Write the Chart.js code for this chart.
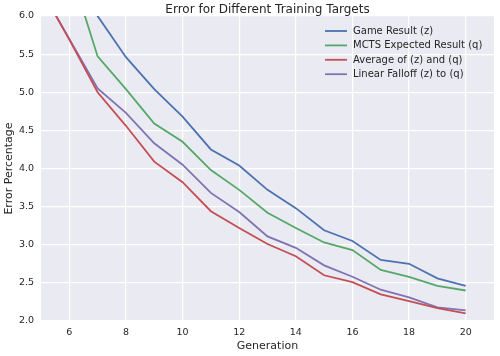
<!DOCTYPE html>
<html><head><meta charset="utf-8">
<script src="https://cdn.jsdelivr.net/npm/chart.js@4/dist/chart.umd.min.js"></script>
<style>html,body{margin:0;padding:0;background:#fff}#wrap{width:500px;height:356px}</style>
</head><body><div id="wrap"><canvas id="c" width="500" height="356"></canvas></div>
<script>
const chartTitle = 'Error for Different Training Targets';
const xTitle = 'Generation';
const yTitle = 'Error Percentage';
const generations = [5,6,7,8,9,10,11,12,13,14,15,16,17,18,19,20];
const seriesNames = ['Game Result (z)','MCTS Expected Result (q)','Average of (z) and (q)','Linear Falloff (z) to (q)'];
const gameResult    = [7.80,6.85,6.00,5.46,5.04,4.68,4.25,4.04,3.72,3.48,3.19,3.05,2.80,2.75,2.56,2.46];
const mctsExpected  = [7.70,6.65,5.47,5.04,4.59,4.35,3.98,3.72,3.42,3.22,3.03,2.93,2.67,2.58,2.46,2.40];
const averageZQ     = [6.35,5.69,5.00,4.56,4.09,3.82,3.44,3.22,3.01,2.85,2.60,2.51,2.35,2.26,2.17,2.10];
const linearFalloff = [6.35,5.70,5.05,4.73,4.33,4.05,3.68,3.43,3.11,2.96,2.73,2.58,2.41,2.31,2.18,2.14];
const xTicks = [6,8,10,12,14,16,18,20];
const yTicks = [2.0,2.5,3.0,3.5,4.0,4.5,5.0,5.5,6.0];

const colors = ['#4C72B0','#55A868','#C44E52','#8172B2'];
const FONT = '"DejaVu Sans", sans-serif';
const TXT = '#262626';
const allSeries = [gameResult, mctsExpected, averageZQ, linearFalloff];

const datasets = allSeries.map((vals, i) => ({
  label: seriesNames[i],
  data: generations.map((g, j) => ({x: g, y: vals[j]})),
  borderColor: colors[i],
  backgroundColor: colors[i],
  borderWidth: 1.8,
  pointRadius: 0,
  tension: 0,
  fill: false,
  clip: 0
}));

const bgPlugin = {
  id: 'bg',
  beforeDraw(chart) {
    const {ctx, chartArea: a} = chart;
    ctx.save();
    ctx.fillStyle = '#ffffff';
    ctx.fillRect(0, 0, chart.width, chart.height);
    ctx.fillStyle = '#EAEAF2';
    ctx.fillRect(a.left, a.top, a.right - a.left, a.bottom - a.top);
    ctx.restore();
  },
  afterDraw(chart) {
    const {ctx, chartArea: a} = chart;
    ctx.save();
    ctx.fillStyle = TXT;
    ctx.font = '12px ' + FONT;
    ctx.textAlign = 'center';
    ctx.textBaseline = 'middle';
    ctx.fillText(chartTitle, (a.left + a.right) / 2, 9.5);
    // legend
    ctx.font = '10px ' + FONT;
    ctx.textAlign = 'left';
    const x0 = a.right - 169;
    chart.data.datasets.forEach((ds, i) => {
      const y = a.top + 15 + i * 14.4;
      ctx.strokeStyle = ds.borderColor;
      ctx.lineWidth = 1.8;
      ctx.beginPath();
      ctx.moveTo(x0, y);
      ctx.lineTo(x0 + 22, y);
      ctx.stroke();
      ctx.fillStyle = TXT;
      ctx.fillText(ds.label, x0 + 28, y + 0.5);
    });
    ctx.restore();
  }
};

new Chart(document.getElementById('c'), {
  type: 'line',
  data: {datasets},
  options: {
    responsive: false,
    animation: false,
    devicePixelRatio: 1,
    layout: {padding: {top: 16, right: 6, left: 0, bottom: 0}},
    plugins: {legend: {display: false}, title: {display: false}, tooltip: {enabled: false}},
    scales: {
      x: {
        type: 'linear', min: 5, max: 21,
        afterBuildTicks: s => { s.ticks = xTicks.map(v => ({value: v})); },
        afterFit: s => { s.height = 35; },
        border: {display: false},
        grid: {color: '#ffffff', lineWidth: 1.2, drawTicks: false},
        ticks: {color: TXT, font: {family: FONT, size: 9.5}, padding: 6, maxRotation: 0,
                callback: v => String(v)},
        title: {display: true, text: xTitle, color: TXT, font: {family: FONT, size: 11}, padding: {top: 0, bottom: 3}}
      },
      y: {
        type: 'linear', min: 2, max: 6,
        afterBuildTicks: s => { s.ticks = yTicks.map(v => ({value: v})); },
        afterFit: s => { s.width = 41; },
        border: {display: false},
        grid: {color: '#ffffff', lineWidth: 1.2, drawTicks: false},
        ticks: {color: TXT, font: {family: FONT, size: 9.5}, padding: 7,
                callback: v => Number(v).toFixed(1)},
        title: {display: true, text: yTitle, color: TXT, font: {family: FONT, size: 11}, padding: {top: 3, bottom: 0}}
      }
    }
  },
  plugins: [bgPlugin]
});
</script>
</body></html>
